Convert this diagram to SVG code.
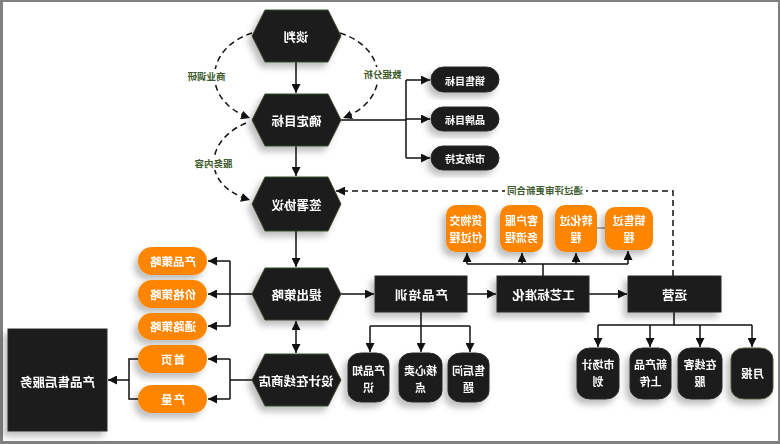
<svg xmlns="http://www.w3.org/2000/svg" width="780" height="444" viewBox="0 0 780 444">
<defs>
<style>
text{font-family:"Noto Sans CJK SC","Noto Sans",sans-serif;font-weight:bold;text-anchor:middle;dominant-baseline:central;transform-box:fill-box;transform-origin:center;transform:scaleX(-1)}
.w{fill:#ffffff}
.hx{font-size:12.5px}
.sm{font-size:10px}
.md{font-size:11.5px}
.t2{font-size:11px}
.lb{font-size:9.5px;fill:#3e5a2c}
.hex{fill:#1b1b1b;stroke:#3a4a30;stroke-width:1}
.blk{fill:#1b1b1b;stroke:#2d2d2d;stroke-width:1}
.org{fill:#fd8506}
.ln{fill:none;stroke:#111;stroke-width:1.5}
.da{fill:none;stroke:#111;stroke-width:1.5;stroke-dasharray:6 4}
.sh{filter:url(#ds)}
</style>
<filter id="ds" x="-30%" y="-30%" width="160%" height="160%">
<feDropShadow dx="-4" dy="5" stdDeviation="3" flood-color="#000" flood-opacity="0.25"/>
</filter>
<marker id="ar" viewBox="0 0 10 10" refX="10" refY="5" markerWidth="9" markerHeight="9" markerUnits="userSpaceOnUse" orient="auto">
<path d="M0,0 L10,5 L0,10 z" fill="#111"/>
</marker>
<marker id="ars" viewBox="0 0 10 10" refX="0" refY="5" markerWidth="9" markerHeight="9" markerUnits="userSpaceOnUse" orient="auto">
<path d="M10,0 L0,5 L10,10 z" fill="#111"/>
</marker>
</defs>
<rect x="0" y="0" width="780" height="444" fill="#808080"/>
<rect x="3" y="2" width="775" height="439" fill="#ffffff"/>

<g id="connectors">
<path class="ln" d="M296,62 V93" marker-end="url(#ar)"/>
<path class="ln" d="M296,146 V176" marker-end="url(#ar)"/>
<path class="ln" d="M296,231 V267" marker-end="url(#ar)"/>
<path class="ln" d="M296,321 V353" marker-start="url(#ars)" marker-end="url(#ar)"/>
<path class="da" d="M252,33 C205,48 200,100 250,118" marker-end="url(#ar)"/>
<path class="da" d="M340,33 C388,48 392,100 343,118" marker-end="url(#ar)"/>
<path class="da" d="M246,123 C205,140 200,185 250,200" marker-end="url(#ar)"/>
<path class="ln" d="M341,120 H406 M406,80 V158"/>
<path class="ln" d="M406,80 H430" marker-end="url(#ar)"/>
<path class="ln" d="M406,119 H430" marker-end="url(#ar)"/>
<path class="ln" d="M406,158 H430" marker-end="url(#ar)"/>
<path class="da" d="M673,276 V191 H336" marker-end="url(#ar)"/>
<path class="ln" d="M252,294 H230 M230,261 V326"/>
<path class="ln" d="M230,261 H208" marker-end="url(#ar)"/>
<path class="ln" d="M230,294 H208" marker-end="url(#ar)"/>
<path class="ln" d="M230,326 H208" marker-end="url(#ar)"/>
<path class="ln" d="M252,380 H230 M230,359 V399"/>
<path class="ln" d="M230,359 H208" marker-end="url(#ar)"/>
<path class="ln" d="M230,399 H208" marker-end="url(#ar)"/>
<path class="ln" d="M138,359 H129 V399 H138"/>
<path class="ln" d="M129,380 H108" marker-end="url(#ar)"/>
<path class="ln" d="M341,294 H374" marker-end="url(#ar)"/>
<path class="ln" d="M467,294 H496" marker-end="url(#ar)"/>
<path class="ln" d="M589,294 H627" marker-end="url(#ar)"/>
<path class="ln" d="M543,276 V264 M467,264 H628"/>
<path class="ln" d="M467,264 V253" marker-end="url(#ar)"/>
<path class="ln" d="M522,264 V253" marker-end="url(#ar)"/>
<path class="ln" d="M576,264 V253" marker-end="url(#ar)"/>
<path class="ln" d="M628,264 V251" marker-end="url(#ar)"/>
<path d="M597,228 H605" stroke="#777" stroke-width="1.2"/>
<path class="ln" d="M421,312 V326 M370,326 H470"/>
<path class="ln" d="M370,326 V352" marker-end="url(#ar)"/>
<path class="ln" d="M421,326 V352" marker-end="url(#ar)"/>
<path class="ln" d="M470,326 V352" marker-end="url(#ar)"/>
<path class="ln" d="M674,312 V325 M598,325 H752"/>
<path class="ln" d="M598,325 V347" marker-end="url(#ar)"/>
<path class="ln" d="M650,325 V347" marker-end="url(#ar)"/>
<path class="ln" d="M700,325 V347" marker-end="url(#ar)"/>
<path class="ln" d="M752,325 V347" marker-end="url(#ar)"/>
<rect x="186" y="69" width="40" height="14" fill="#fff"/>
<text class="lb" x="206" y="76">商业调研</text>
<rect x="362" y="67" width="40" height="14" fill="#fff"/>
<text class="lb" x="382" y="74">数据分析</text>
<rect x="192" y="156" width="42" height="14" fill="#fff"/>
<text class="lb" x="213" y="163">服务内容</text>
<rect x="505" y="183" width="81" height="14" fill="#fff"/>
<text class="lb" x="545" y="190">通过评审更新合同</text>
</g>

<g id="n-tanpan" class="sh"><path class="hex" d="M252,36 L265,10 L328,10 L341,36 L328,62 L265,62 Z"/><text class="w hx" x="296" y="36">谈判</text></g>
<g id="n-queding" class="sh"><path class="hex" d="M252,120 L265,94 L328,94 L341,120 L328,146 L265,146 Z"/><text class="w hx" x="296" y="120">确定目标</text></g>
<g id="n-qianshu" class="sh"><path class="hex" d="M252,204 L265,177 L328,177 L341,204 L328,231 L265,231 Z"/><text class="w hx" x="296" y="204">签署协议</text></g>
<g id="n-tichu" class="sh"><path class="hex" d="M252,294 L265,268 L328,268 L341,294 L328,320 L265,320 Z"/><text class="w hx" x="296" y="294">提出策略</text></g>
<g id="n-sheji" class="sh"><path class="hex" d="M252,380 L265,354 L328,354 L341,380 L328,406 L265,406 Z"/><text class="w hx" x="296" y="380">设计在线商店</text></g>

<g id="n-xiaoshoumubiao" class="sh"><rect class="blk" x="431" y="67" width="68" height="25" rx="12.5"/><text class="w sm" x="465" y="80">销售目标</text></g>
<g id="n-pinpaimubiao" class="sh"><rect class="blk" x="431" y="107" width="68" height="24" rx="12"/><text class="w sm" x="465" y="119">品牌目标</text></g>
<g id="n-shichangzhichi" class="sh"><rect class="blk" x="431" y="146" width="68" height="24" rx="12"/><text class="w sm" x="465" y="158">市场支持</text></g>

<g id="n-huowu" class="sh"><rect class="org" x="446" y="205" width="40" height="47" rx="10"/><text class="w t2" x="466" y="220">货物交</text><text class="w t2" x="466" y="237">付过程</text></g>
<g id="n-kehu" class="sh"><rect class="org" x="500" y="205" width="43" height="47" rx="10"/><text class="w t2" x="521.5" y="220">客户服</text><text class="w t2" x="521.5" y="237">务流程</text></g>
<g id="n-zhuanhua" class="sh"><rect class="org" x="555" y="205" width="42" height="47" rx="10"/><text class="w t2" x="576" y="220">转化过</text><text class="w t2" x="576" y="237">程</text></g>
<g id="n-xiaoshou" class="sh"><rect class="org" x="605" y="207" width="48" height="43" rx="10"/><text class="w t2" x="629" y="220">销售过</text><text class="w t2" x="629" y="237">程</text></g>

<g id="n-peixun" class="sh"><rect class="blk" x="375" y="276" width="92" height="36"/><text class="w hx" x="421" y="294" style="letter-spacing:1px">产品培训</text></g>
<g id="n-gongyi" class="sh"><rect class="blk" x="497" y="276" width="92" height="36"/><text class="w hx" x="543" y="294">工艺标准化</text></g>
<g id="n-yunying" class="sh"><rect class="blk" x="628" y="276" width="93" height="36"/><text class="w hx" x="674.5" y="294">运营</text></g>

<g id="n-chanpincelue" class="sh"><rect class="org" x="138" y="247" width="69" height="28" rx="14"/><text class="w md" x="172.5" y="261">产品策略</text></g>
<g id="n-jiagecelue" class="sh"><rect class="org" x="138" y="280" width="69" height="28" rx="14"/><text class="w md" x="172.5" y="294">价格策略</text></g>
<g id="n-tonglucelue" class="sh"><rect class="org" x="138" y="313" width="69" height="27" rx="13.5"/><text class="w md" x="172.5" y="326">通路策略</text></g>
<g id="n-shouye" class="sh"><rect class="org" x="138" y="345" width="69" height="28" rx="14"/><text class="w md" x="172.5" y="359" style="letter-spacing:1px">首页</text></g>
<g id="n-chanliang" class="sh"><rect class="org" x="138" y="385" width="69" height="28" rx="14"/><text class="w md" x="172.5" y="399" style="letter-spacing:1px">产量</text></g>

<g id="n-shouhoufuwu" class="sh"><rect class="blk" x="8" y="329" width="99" height="102"/><text class="w hx" x="57" y="381">产品售后服务</text></g>

<g id="n-zhishi" class="sh"><rect class="blk" x="348" y="353" width="41" height="49" rx="13" ry="11"/><text class="w t2" x="368.5" y="370">产品知</text><text class="w t2" x="368.5" y="387">识</text></g>
<g id="n-maidian" class="sh"><rect class="blk" x="399" y="353" width="43" height="49" rx="13" ry="11"/><text class="w t2" x="420.5" y="370">核心卖</text><text class="w t2" x="420.5" y="387">点</text></g>
<g id="n-wenti" class="sh"><rect class="blk" x="448" y="353" width="41" height="49" rx="13" ry="11"/><text class="w t2" x="468.5" y="370">售后问</text><text class="w t2" x="468.5" y="387">题</text></g>

<g id="n-jihua" class="sh"><rect class="blk" x="577" y="348" width="42" height="51" rx="13" ry="11"/><text class="w t2" x="598" y="364">市场计</text><text class="w t2" x="598" y="381">划</text></g>
<g id="n-shangchuan" class="sh"><rect class="blk" x="630" y="348" width="41" height="51" rx="13" ry="11"/><text class="w t2" x="650.5" y="364">新产品</text><text class="w t2" x="650.5" y="381">上传</text></g>
<g id="n-kefu" class="sh"><rect class="blk" x="678" y="348" width="44" height="51" rx="13" ry="11"/><text class="w t2" x="700" y="364">在线客</text><text class="w t2" x="700" y="381">服</text></g>
<g id="n-yuebao" class="sh"><rect class="blk" x="731" y="348" width="42" height="51" rx="13" ry="11" style="stroke:#4a5a3a"/><text class="w md" x="752" y="373">月报</text></g>
</svg>
